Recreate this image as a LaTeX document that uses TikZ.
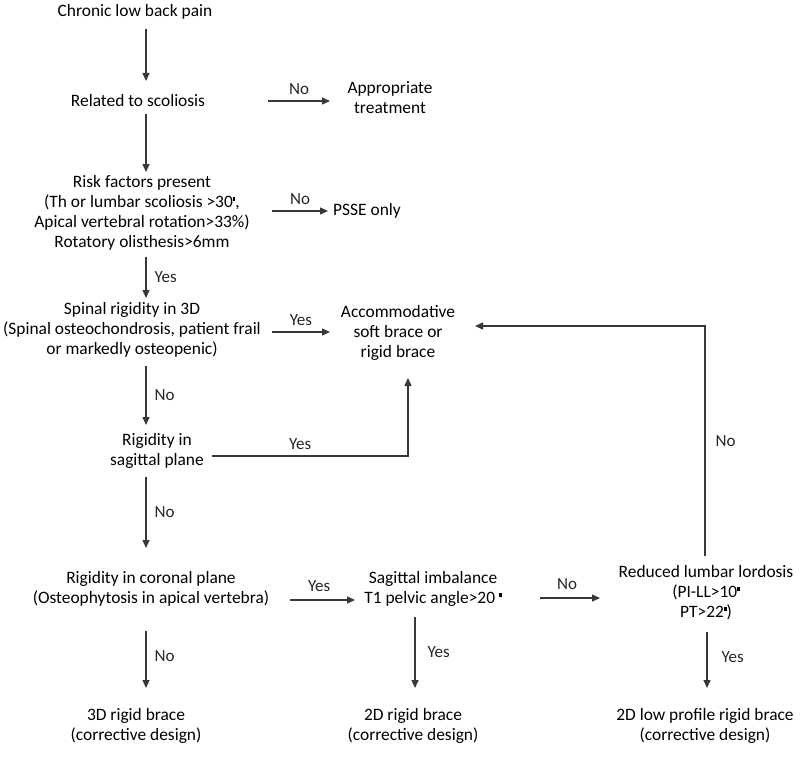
\documentclass[tikz,border=0pt]{standalone}
\usepackage{fontspec}
\setmainfont{Carlito}
\usetikzlibrary{arrows.meta}
\newcommand{\dg}{\raisebox{7pt}{\rule{2.6pt}{3.4pt}}}
\begin{document}
\begin{tikzpicture}[x=1pt,y=-1pt,
  txt/.style={align=center,inner sep=0pt,font=\fontsize{17.4}{20}\selectfont,text=black},
  lab/.style={inner sep=0pt,font=\fontsize{17}{20}\selectfont,text=black!85},
  arr/.style={draw=black!78,line width=1.3pt,-{Triangle[length=8pt,width=7pt]}},
  ln/.style={draw=black!78,line width=1.3pt}]
\useasboundingbox (0,0) rectangle (800,757);
\coordinate (sp) at (146,0);
\node[txt] (n1) at (135,12) {Chronic low back pain};
\node[txt] (n2) at (138,101) {Related to scoliosis};
\node[txt] (n3) at (390,98) {Appropriate\\treatment};
\node[txt] (n4) at (142,213) {Risk factors present\\(Th or lumbar scoliosis >30\dg,\\Apical vertebral rotation>33\%)\\Rotatory olisthesis>6mm};
\node[txt] (n5) at (367,211) {PSSE only};
\node[txt] (n6) at (132,330) {Spinal rigidity in 3D\\(Spinal osteochondrosis, patient frail\\or markedly osteopenic)};
\node[txt] (n7) at (398,333) {Accommodative\\soft brace or\\rigid brace};
\node[txt] (n8) at (157,451) {Rigidity in\\sagittal plane};
\node[txt] (n9) at (151,589) {Rigidity in coronal plane\\(Osteophytosis in apical vertebra)};
\node[txt] (n10) at (433,589) {Sagittal imbalance\\T1 pelvic angle>20 \dg};
\node[txt] (n11) at (706,593) {Reduced lumbar lordosis\\(PI-LL>10\dg\\PT>22\dg)};
\node[txt] (b1) at (136,726) {3D rigid brace\\(corrective design)};
\node[txt] (b2) at (413,726) {2D rigid brace\\(corrective design)};
\node[txt] (b3) at (705,726) {2D low profile rigid brace\\(corrective design)};
% vertical spine arrows
\draw[arr] (n1.south -| sp) ++(0,9) coordinate (t1) -- (t1 |- 0,81);
\draw[arr] (n2.south -| sp) ++(0,7) coordinate (t2) -- (t2 |- 0,172);
\draw[arr] (n4.south -| sp) ++(0,6) coordinate (t3) -- (t3 |- 0,298) node[lab,pos=0.5,right=8pt] {Yes};
\draw[arr] (n6.south -| sp) ++(0,8) coordinate (t4) -- (t4 |- 0,425) node[lab,pos=0.5,right=8pt] {No};
\draw[arr] (n8.south -| sp) ++(0,8) coordinate (t5) -- (t5 |- 0,548) node[lab,pos=0.5,right=8pt] {No};
\draw[arr] (n9.south -| sp) ++(0,24) coordinate (t6) -- (t6 |- 0,688) node[lab,pos=0.45,right=8pt] {No};
\draw[arr] (n10.south -| b2) ++(2,10) coordinate (t7) -- (t7 |- 0,688) node[lab,pos=0.5,right=12pt] {Yes};
\draw[arr] (n11.south -| b3) ++(2,12) coordinate (t8) -- (t8 |- 0,688) node[lab,pos=0.45,right=14pt] {Yes};
% horizontal arrows
\coordinate (h1) at (268,101);
\draw[arr] (h1) -- (h1 -| 330,0) node[lab,pos=0.5,above=6pt] {No};
\coordinate (h2) at (272,211);
\draw[arr] (h2) -- (h2 -| 328,0) node[lab,pos=0.5,above=6pt] {No};
\coordinate (h3) at (272,332);
\draw[arr] (h3) -- (h3 -| 330,0) node[lab,pos=0.5,above=6pt] {Yes};
\coordinate (h4) at (290,600);
\draw[arr] (h4) -- (h4 -| 355,0) node[lab,pos=0.45,above=8pt] {Yes};
\coordinate (h5) at (540,598);
\draw[arr] (h5) -- (h5 -| 600,0) node[lab,pos=0.45,above=8pt] {No};
% elbow connectors
\coordinate (e1) at (212,456);
\draw[arr] (e1) -- (e1 -| 408,0) node[lab,pos=0.45,above=6pt] {Yes} -- (408,378);
\coordinate (e2) at (705,556);
\draw[arr] (e2) -- (705,326) node[lab,pos=0.5,right=10pt] {No} -- (475,326);
\end{tikzpicture}
\end{document}
